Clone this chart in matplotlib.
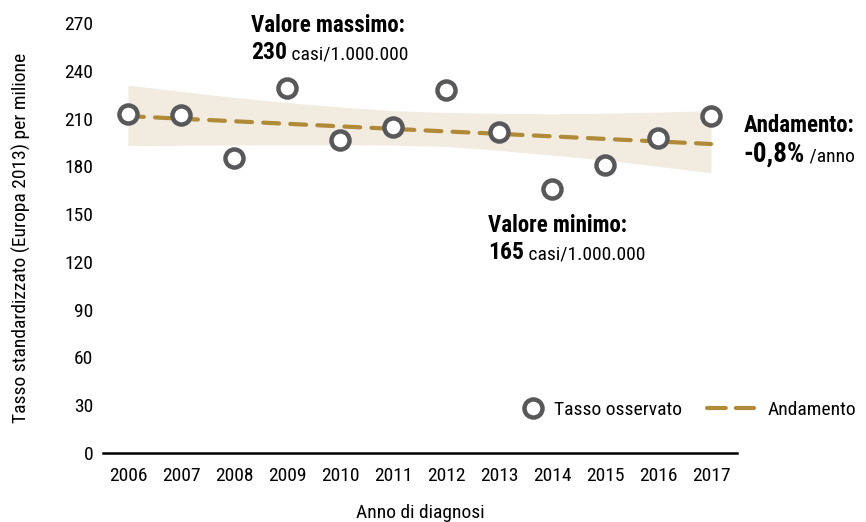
import matplotlib
matplotlib.use("Agg")
import matplotlib.pyplot as plt
from matplotlib.lines import Line2D

plt.rcParams['font.family'] = ['Roboto Condensed', 'DejaVu Sans']

years = [2006, 2007, 2008, 2009, 2010, 2011, 2012, 2013, 2014, 2015, 2016, 2017]
observed = [213, 212, 185, 229, 196.5, 204.5, 228, 201.5, 165.5, 181, 197.5, 211.5]
trend = [211.5, 209.9, 208.3, 206.7, 205.1, 203.5, 201.9, 200.4, 198.8, 197.2, 195.6, 194.0]
band_upper = [231, 227, 223.3, 220, 217.2, 215, 213.8, 213.2, 213, 213.3, 214, 215]
band_lower = [193, 193.2, 193.4, 193.5, 193.5, 193.3, 192.5, 190, 187, 184, 180, 176]
yticks = [0, 30, 60, 90, 120, 150, 180, 210, 240, 270]

gold = '#b08a36'
band_col = '#f1ebe0'
marker_col = '#58585a'

fig = plt.figure(figsize=(8.66, 5.22), dpi=100)
ax = fig.add_axes([0.119, 0.1322, 0.732, 0.8238])

ax.fill_between(years, band_lower, band_upper, color=band_col, lw=0, zorder=1)
trend_line, = ax.plot(years, trend, color=gold, lw=3, ls=(0, (3.8, 2.7)),
                      dash_capstyle='round', zorder=2, label='Andamento')
obs_line, = ax.plot(years, observed, ls='none', marker='o', ms=13, mfc='white',
                    mec=marker_col, mew=3.2, zorder=3, label='Tasso osservato')

ax.set_xlim(2005.53, 2017.49)
ax.set_ylim(0, 270)
ax.set_yticks(yticks)
ax.set_xticks(years)
ax.tick_params(axis='both', length=0, labelsize=14, colors='black')
ax.tick_params(axis='y', pad=7)
ax.tick_params(axis='x', pad=10)
for s in ['top', 'right', 'left']:
    ax.spines[s].set_visible(False)
ax.spines['bottom'].set_linewidth(1.8)
ax.spines['bottom'].set_color('black')

ax.set_xlabel('Anno di diagnosi', fontsize=14, labelpad=14)
ax.set_ylabel('Tasso standardizzato (Europa 2013) per milione', fontsize=14, labelpad=24)

# annotations
def note(x, y_head, head, y_val, val, rest, head_size=16.5, val_size=17):
    ax.text(x, y_head, head, fontsize=head_size, fontweight='bold', ha='left',
            va='baseline', clip_on=False)
    t = ax.text(x, y_val, val, fontsize=val_size, fontweight='bold', ha='left',
                va='baseline', clip_on=False)
    ax.annotate(rest, xycoords=(t, 'data'), xy=(1, y_val), va='baseline',
                ha='left', fontsize=14, annotation_clip=False)

note(2008.32, 264.5, 'Valore massimo:', 247.1, '230', ' casi/1.000.000')
note(2012.8, 138.9, 'Valore minimo:', 121.6, '165', ' casi/1.000.000')
note(2017.62, 201.5, 'Andamento:', 182.9, '-0,8%', ' /anno', head_size=16.5, val_size=19.5)

leg1 = ax.legend(handles=[obs_line], loc='center left', bbox_to_anchor=(0.604, 0.2146),
                 bbox_transform=fig.transFigure, frameon=False, fontsize=14,
                 handlelength=1.0, handletextpad=0.6, borderpad=0, borderaxespad=0)
ax.add_artist(leg1)
trend_handle = Line2D([], [], color=gold, lw=3, ls=(0, (4.5, 2.4)),
                      dash_capstyle='round', label='Andamento')
ax.legend(handles=[trend_handle], loc='center left', bbox_to_anchor=(0.816, 0.2146),
          bbox_transform=fig.transFigure, frameon=False, fontsize=14,
          handlelength=2.45, handletextpad=0.7, borderpad=0, borderaxespad=0)

fig.savefig('out.png', dpi=100)
